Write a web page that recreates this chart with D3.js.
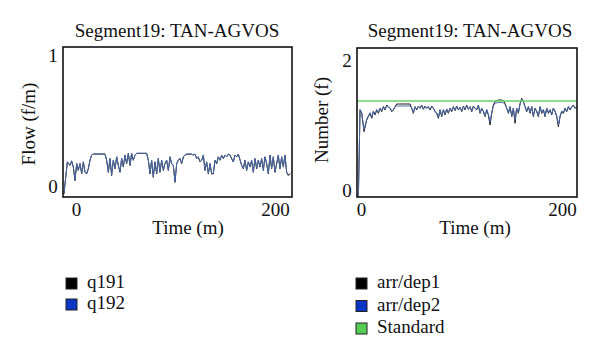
<!DOCTYPE html>
<html><head><meta charset="utf-8">
<script src="https://cdn.jsdelivr.net/npm/d3@7"></script>
<style>body{margin:0;background:#fff}svg{display:block}text{font-family:"Liberation Serif","DejaVu Serif",serif;fill:#111}</style>
</head><body><svg id="c" width="600" height="360"></svg>
<script>
const chartTitle = "Segment19: TAN-AGVOS";
const flowTicksY = [0, 1];
const numTicksY = [0, 2];
const timeTicks = [0, 200];
const flowTime = [-12.1,-8.7,-6.0,-4.4,-2.7,-1.0,0.7,2.3,4.0,5.7,7.4,9.0,10.7,12.4,14.1,15.7,17.4,29.1,30.8,32.5,34.2,35.8,37.5,39.2,40.9,42.5,44.2,45.9,47.6,49.2,50.9,52.6,54.3,55.9,57.6,59.3,61.0,71.0,72.7,74.4,76.0,77.7,79.4,81.1,82.7,84.4,86.1,87.8,89.4,91.1,92.8,94.5,96.1,97.8,99.5,101.2,102.8,104.5,106.2,107.9,109.5,111.2,116.2,117.9,119.6,121.3,122.9,124.6,126.3,128.0,129.6,131.3,133.0,134.7,136.3,138.0,139.7,141.4,143.0,144.7,146.4,148.1,149.7,151.4,153.1,154.8,156.4,158.1,159.8,161.5,163.1,166.5,168.2,169.8,171.5,173.2,174.9,176.5,178.2,179.9,181.6,183.2,184.9,186.6,188.3,189.9,191.6,193.3,195.0,196.6,198.3,200.0,201.7,203.3,205.0,206.7,208.4,210.0,211.7,213.4,215.1];
const q192 = [-0.06,0.186,0.160,0.193,0.148,0.046,0.173,0.122,0.173,0.097,0.186,0.109,0.097,0.135,0.198,0.237,0.244,0.244,0.198,0.109,0.211,0.084,0.198,0.135,0.224,0.160,0.109,0.211,0.148,0.237,0.173,0.250,0.160,0.250,0.198,0.237,0.250,0.250,0.198,0.097,0.198,0.071,0.186,0.097,0.211,0.109,0.198,0.122,0.173,0.198,0.122,0.224,0.173,0.160,0.033,0.173,0.198,0.211,0.173,0.224,0.237,0.244,0.244,0.237,0.244,0.211,0.224,0.186,0.198,0.237,0.122,0.186,0.097,0.173,0.097,0.097,0.198,0.173,0.224,0.198,0.237,0.211,0.237,0.224,0.244,0.237,0.211,0.186,0.237,0.224,0.244,0.160,0.135,0.198,0.122,0.186,0.148,0.198,0.109,0.211,0.135,0.198,0.148,0.211,0.122,0.224,0.173,0.097,0.237,0.135,0.224,0.109,0.173,0.237,0.135,0.224,0.148,0.237,0.109,0.084,0.097];
const q191 = [-0.06,0.182,0.156,0.190,0.144,0.040,0.170,0.118,0.170,0.092,0.183,0.104,0.093,0.131,0.196,0.236,0.244,0.244,0.196,0.104,0.209,0.079,0.196,0.131,0.222,0.156,0.104,0.209,0.144,0.235,0.170,0.249,0.156,0.249,0.196,0.235,0.249,0.249,0.196,0.092,0.196,0.066,0.183,0.092,0.209,0.104,0.196,0.118,0.170,0.196,0.118,0.222,0.170,0.156,0.028,0.170,0.196,0.209,0.170,0.222,0.235,0.243,0.243,0.235,0.243,0.209,0.222,0.183,0.196,0.235,0.118,0.183,0.092,0.170,0.092,0.092,0.196,0.170,0.222,0.196,0.235,0.209,0.235,0.222,0.243,0.235,0.209,0.183,0.235,0.222,0.243,0.156,0.131,0.196,0.118,0.183,0.144,0.196,0.104,0.209,0.131,0.196,0.144,0.209,0.118,0.222,0.170,0.092,0.235,0.131,0.222,0.104,0.170,0.235,0.131,0.222,0.144,0.235,0.104,0.080,0.093];
const numTime = [-2.6,-0.95,0.7,3.0,5.7,7.3,9.0,10.7,12.3,14.0,15.6,17.3,19.0,20.6,22.3,23.9,25.6,27.2,28.9,30.6,32.2,33.9,35.5,37.2,48.8,50.5,52.1,53.8,55.4,57.1,58.8,60.4,62.1,63.7,65.4,67.0,68.7,70.4,72.0,73.7,75.3,77.0,78.7,80.3,82.0,83.6,85.3,86.9,88.6,90.3,91.9,93.6,95.2,96.9,98.6,100.2,101.9,103.5,105.2,106.8,108.5,110.2,111.8,113.5,115.1,116.8,118.5,120.1,121.8,123.4,125.1,126.7,128.4,130.1,131.7,133.4,135.0,136.7,140.0,141.7,143.3,145.0,146.7,148.3,150.0,151.6,153.3,154.9,156.6,158.3,159.9,161.6,163.2,164.9,166.6,168.2,169.9,171.5,173.2,174.8,176.5,178.2,179.8,181.5,183.1,184.8,186.5,188.1,189.8,191.4,193.1,194.8,196.4,198.1,199.7,201.4,203.0,204.7,206.4,208.0,209.7,211.3,213.0,214.7];
const arrDep1 = [-0.1,1.231,1.179,0.897,1.077,1.128,1.179,1.103,1.205,1.154,1.231,1.179,1.256,1.205,1.282,1.231,1.308,1.282,1.256,1.205,1.231,1.282,1.323,1.323,1.323,1.256,1.179,1.282,1.231,1.292,1.256,1.308,1.241,1.292,1.256,1.282,1.231,1.292,1.256,1.205,1.179,1.103,1.231,1.128,1.231,1.154,1.241,1.179,1.256,1.205,1.282,1.221,1.292,1.231,1.272,1.205,1.292,1.231,1.308,1.241,1.282,1.205,1.292,1.256,1.231,1.308,1.179,1.256,1.205,1.128,1.231,1.154,1.000,1.179,1.308,1.359,1.374,1.385,1.385,1.374,1.333,1.256,1.179,1.282,1.128,1.256,1.026,1.256,1.179,1.333,1.410,1.359,1.282,1.205,1.282,1.179,1.282,1.128,1.256,1.205,1.128,1.282,1.179,1.231,1.128,1.256,1.179,1.231,1.154,1.256,1.205,1.128,0.974,1.128,1.205,1.179,1.256,1.205,1.282,1.231,1.282,1.308,1.256,1.282];
const arrDep2 = [-0.1,1.240,1.190,0.930,1.090,1.140,1.190,1.120,1.215,1.165,1.240,1.190,1.262,1.215,1.285,1.240,1.300,1.280,1.262,1.215,1.240,1.278,1.295,1.292,1.292,1.262,1.190,1.280,1.240,1.285,1.262,1.300,1.248,1.285,1.262,1.280,1.240,1.285,1.262,1.215,1.190,1.120,1.240,1.140,1.240,1.165,1.248,1.190,1.262,1.215,1.280,1.230,1.285,1.240,1.270,1.215,1.285,1.240,1.300,1.248,1.280,1.215,1.285,1.262,1.240,1.300,1.190,1.262,1.215,1.140,1.240,1.165,1.050,1.190,1.295,1.335,1.340,1.345,1.345,1.340,1.320,1.262,1.190,1.280,1.140,1.262,1.080,1.262,1.190,1.320,1.395,1.350,1.280,1.215,1.280,1.190,1.280,1.140,1.262,1.215,1.140,1.280,1.190,1.240,1.140,1.262,1.190,1.240,1.165,1.262,1.215,1.140,1.000,1.140,1.215,1.190,1.262,1.215,1.280,1.240,1.280,1.300,1.262,1.280];
const standardValue = 1.37;
const leftLegend = ["q191", "q192"];
const rightLegend = ["arr/dep1", "arr/dep2", "Standard"];

const svg = d3.select("#c");
const FS = 19;

function panel(cfg){
  const g = svg.append("g");
  const x = d3.scaleLinear().domain([0,200]).range(cfg.xr);
  const y = d3.scaleLinear().domain([0,cfg.ymax]).range(cfg.yr);
  const id = "clip" + cfg.id;
  svg.append("clipPath").attr("id", id).append("rect")
    .attr("x", cfg.fx0).attr("y", cfg.fy0).attr("width", cfg.fx1-cfg.fx0).attr("height", cfg.fy1-cfg.fy0);
  const plot = g.append("g").attr("clip-path", `url(#${id})`);
  cfg.series.forEach(s => {
    const line = d3.line().x((d,i)=>x(s.t[i])).y(d=>y(d));
    plot.append("path").datum(s.v).attr("d", line).attr("fill","none")
      .attr("stroke", s.color).attr("stroke-width", s.w).attr("stroke-linejoin","round");
  });
  if (cfg.std !== undefined) {
    plot.append("line").attr("x1", cfg.fx0).attr("x2", cfg.fx1)
      .attr("y1", y(cfg.std)).attr("y2", y(cfg.std)).attr("stroke", "#66d066").attr("stroke-width", 1.6);
  }
  g.append("rect").attr("x", cfg.fx0).attr("y", cfg.fy0).attr("width", cfg.fx1-cfg.fx0).attr("height", cfg.fy1-cfg.fy0)
    .attr("fill","none").attr("stroke","#111").attr("stroke-width",1.6);
  // axes
  const ax = g.append("g").attr("transform", `translate(0,${cfg.xLabY})`)
    .call(d3.axisBottom(x).tickValues(timeTicks).tickSize(0).tickPadding(0).tickFormat(d3.format("d")));
  ax.select(".domain").remove();
  ax.selectAll("text").attr("font-size", FS).attr("font-family","Liberation Serif").attr("fill","#111").attr("dy","0");
  const ay = g.append("g").attr("transform", `translate(${cfg.yLabX},0)`)
    .call(d3.axisLeft(y).tickValues(cfg.yticks).tickSize(0).tickPadding(0).tickFormat(d3.format("d")));
  ay.select(".domain").remove();
  ay.selectAll("text").attr("font-size", FS).attr("font-family","Liberation Serif").attr("fill","#111")
    .attr("text-anchor","middle").attr("dy","0.35em");
  g.append("text").attr("x", cfg.titleX).attr("y", 37).attr("text-anchor","middle").attr("font-size", FS).text(chartTitle);
  g.append("text").attr("x", cfg.timeX).attr("y", 234).attr("text-anchor","middle").attr("font-size", FS).text("Time (m)");
  g.append("text").attr("transform", `translate(${cfg.ytX},${cfg.ytY}) rotate(-90)`).attr("text-anchor","middle")
    .attr("font-size", FS).text(cfg.ytitle);
  // legend
  const lg = svg.append("g");
  cfg.legend.forEach((name,i)=>{
    lg.append("rect").attr("x", cfg.lgX).attr("y", 278 + i*cfg.lgStep).attr("width", 11).attr("height", 11)
      .attr("fill", cfg.lgColors[i]).attr("stroke","#222").attr("stroke-width",1);
    lg.append("text").attr("x", cfg.lgX + 21).attr("y", 288 + i*cfg.lgStep).attr("font-size", FS).text(name);
  });
}

panel({id:"L", xr:[76,275], yr:[186,55], ymax:1, fx0:63, fx1:292, fy0:47, fy1:197,
  series:[{t:flowTime, v:q191, color:"#1a1a1a", w:1},{t:flowTime, v:q192, color:"#4a68a6", w:1}],
  xLabY:216, yLabX:53, yticks:flowTicksY, titleX:177, timeX:188, ytX:35, ytY:124, ytitle:"Flow (f/m)",
  legend:leftLegend, lgColors:["#000000","#0b35c4"], lgX:66, lgStep:21});
panel({id:"R", xr:[361,562], yr:[190,60], ymax:2, fx0:357, fx1:577, fy0:48, fy1:197,
  series:[{t:numTime, v:arrDep1, color:"#1a1a1a", w:1},{t:numTime, v:arrDep2, color:"#4a68a6", w:1}],
  std:standardValue,
  xLabY:216, yLabX:347, yticks:numTicksY, titleX:470, timeX:475, ytX:328, ytY:120, ytitle:"Number (f)",
  legend:rightLegend, lgColors:["#000000","#0b35c4","#55cc55"], lgX:356, lgStep:22.5});
</script></body></html>
